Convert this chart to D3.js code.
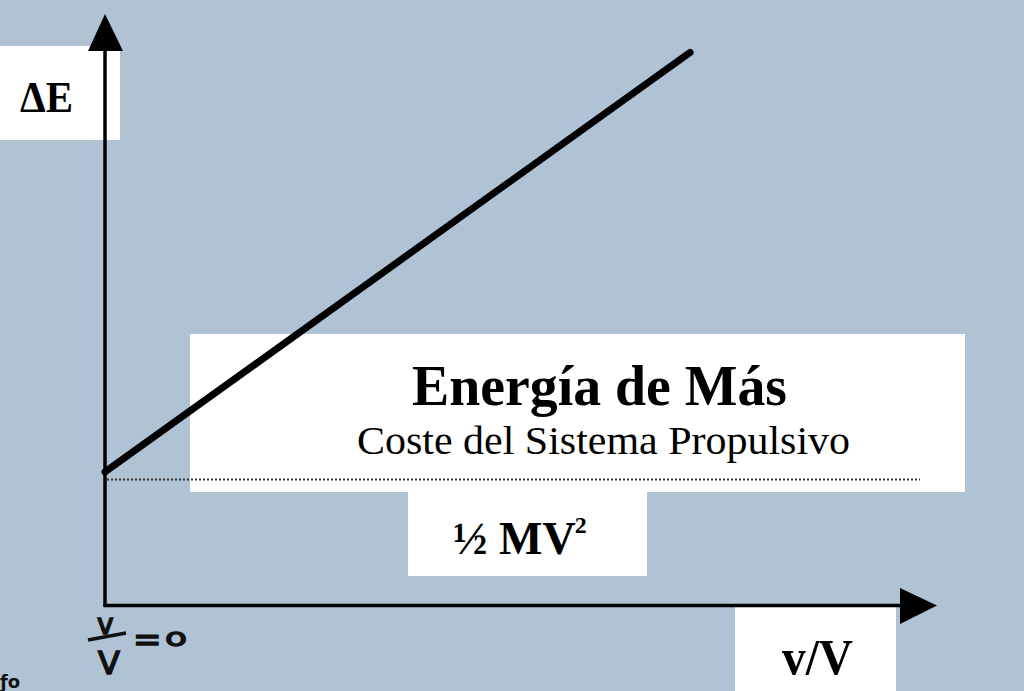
<!DOCTYPE html>
<html><head><meta charset="utf-8">
<script src="https://cdn.jsdelivr.net/npm/d3@7"></script>
<style>
html,body{margin:0;padding:0;background:#afc3d5;}
svg{display:block;}
</style></head>
<body>
<svg id="chart" width="1024" height="691"></svg>
<script>
// ---- data ----
const lineX = [0, 0.705];          // v/V
const lineY = [1.06, 4.39];        // ΔE (in units of ½MV²)
const baseLevel = [1];             // ½ MV² reference level
const baseX = [0, 0.982];
const yAxisLabel = "ΔE";
const xAxisLabel = "v/V";
const titleText = "Energía de Más";
const subtitleText = "Coste del Sistema Propulsivo";
const baseLabel = "½ MV";

const svg = d3.select("#chart");
const W = 1024, H = 691;
svg.append("rect").attr("width", W).attr("height", H).attr("fill", "#afc3d5");

const x = d3.scaleLinear().domain([0, 1]).range([105, 935]);
const y = d3.scaleLinear().domain([0, 4.4]).range([605.5, 51.1]);

const serif = "'Liberation Serif','Times New Roman',serif";

// white label boxes
svg.append("rect").attr("x", 0).attr("y", 46).attr("width", 120).attr("height", 94).attr("fill", "#fff");
svg.append("rect").attr("x", 190).attr("y", 334).attr("width", 775).attr("height", 158).attr("fill", "#fff");
svg.append("rect").attr("x", 408).attr("y", 492).attr("width", 239).attr("height", 84).attr("fill", "#fff");
svg.append("rect").attr("x", 735).attr("y", 607).attr("width", 161).attr("height", 84).attr("fill", "#fff");

// dotted reference line
svg.append("line")
  .attr("x1", x(baseX[0]) + 2).attr("x2", x(baseX[1]))
  .attr("y1", y(baseLevel[0])).attr("y2", y(baseLevel[0]))
  .attr("stroke", "#333").attr("stroke-width", 2).attr("stroke-dasharray", "2,2");

// axes
const axisG = svg.append("g");
axisG.append("line").attr("x1", x(0)).attr("x2", x(0)).attr("y1", y(0) + 1).attr("y2", 48)
  .attr("stroke", "#000").attr("stroke-width", 3.5);
axisG.append("line").attr("x1", x(0) - 1.5).attr("x2", 902).attr("y1", y(0)).attr("y2", y(0))
  .attr("stroke", "#000").attr("stroke-width", 3.5);
axisG.append("path").attr("d", `M${x(0)},14 L88,51 L123,51 Z`).attr("fill", "#000");
axisG.append("path").attr("d", `M937,${y(0)} L900,588 L900,624 Z`).attr("fill", "#000");

// main line
const line = d3.line().x(d => x(d[0])).y(d => y(d[1]));
svg.append("path").datum(d3.zip(lineX, lineY)).attr("d", line)
  .attr("fill", "none").attr("stroke", "#000").attr("stroke-width", 7).attr("stroke-linecap", "round");

// texts
svg.append("text").attr("x", 20).attr("y", 112).attr("font-family", serif).attr("font-weight", "bold")
  .attr("font-size", 44).attr("textLength", 53).attr("lengthAdjust", "spacingAndGlyphs").text(yAxisLabel);
svg.append("text").attr("x", 782).attr("y", 674).attr("font-family", serif).attr("font-weight", "bold")
  .attr("font-size", 50).attr("textLength", 71).attr("lengthAdjust", "spacingAndGlyphs").text(xAxisLabel);
svg.append("text").attr("x", 412).attr("y", 405).attr("font-family", serif).attr("font-weight", "bold")
  .attr("font-size", 56).attr("textLength", 375).attr("lengthAdjust", "spacingAndGlyphs").text(titleText);
svg.append("text").attr("x", 357).attr("y", 454).attr("font-family", serif)
  .attr("font-size", 41).attr("textLength", 493).attr("lengthAdjust", "spacingAndGlyphs").text(subtitleText);
const bt = svg.append("text").attr("x", 453).attr("y", 554).attr("font-family", serif).attr("font-weight", "bold")
  .attr("font-size", 46);
bt.append("tspan").text(baseLabel);
bt.append("tspan").attr("font-size", 24).attr("dy", -21).attr("dx", -1).text("2");

// handwritten note v/V = 0
const hw = svg.append("g").attr("fill", "#111").attr("stroke", "#111").attr("stroke-width", 1.6)
  .attr("font-family", "'DejaVu Sans',sans-serif");
hw.append("text").attr("x", 97).attr("y", 634).attr("font-size", 28).text("v");
hw.append("line").attr("x1", 88).attr("x2", 126).attr("y1", 640).attr("y2", 633).attr("stroke-width", 3.5);
hw.append("text").attr("x", 98).attr("y", 674).attr("font-size", 32).text("V");
hw.append("text").attr("x", 133).attr("y", 651).attr("font-size", 34).text("=");
hw.append("text").attr("x", 165).attr("y", 646).attr("font-size", 30)
  .attr("transform", "translate(165,646) scale(1.2,0.8) translate(-165,-646)").text("o");
svg.append("text").attr("x", 0).attr("y", 688).attr("font-family", "'DejaVu Sans',sans-serif")
  .attr("font-weight", "bold").attr("font-size", 18).attr("fill", "#111").text("ƒo");
</script>
</body></html>
